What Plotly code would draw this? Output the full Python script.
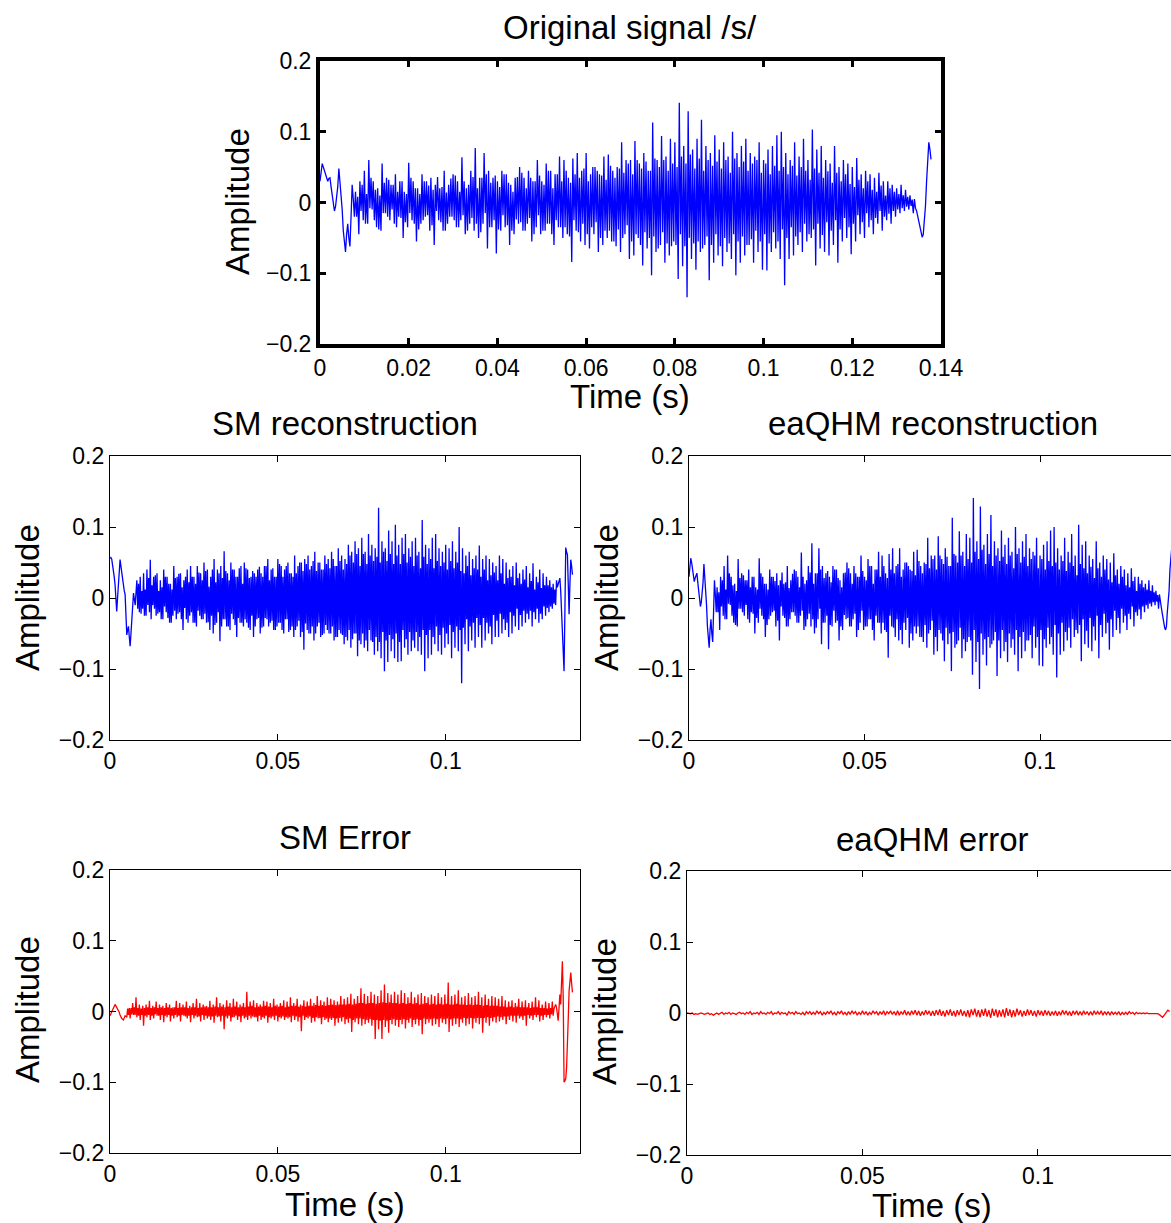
import numpy as np
import plotly.graph_objects as go

# amplitudes are stored in 1/1000, every 0.25 ms
# (0.5 ms for the eaQHM error, which is almost flat)
fs_fine = 4000
fs_coarse = 2000

orig_sig = [
    30, 42, 55, 50, 44, 38, 32, 30, 34, 35, 22, 8, -4, -12, -6, 5, 22, 48, 30, 15,
    -10, -40, -58, -70, -45, -30, -50, -62, -20, 25, 5, -20,
    15, -20, 8, -45, 30, -12, 25, -25,
    45, -30, 12, -30, 60, -8, 35, -10, 30, -25, 18, -35, 20, -38, 10, -40, 55, -15, 28, -15,
    35, -20, 32, -25, 25, -10, 25, -30, 40, -35, 15, -20, 30, -22, 30, -50, 15, -28, 12, -35,
    56, -15, 35, -25, 30, -30, 20, -55, 20, -38, 12, -30, 40, -25, 30, -20, 30, -18, 24, -40,
    35, -32, 18, -60, 25, -12, 36, -25, 20, -28, 22, -40, 45, -40, 14, -30, 25, -20, 34, -20,
    40, -25, 38, -35, 30, -35, 15, -25, 64, -18, 30, -45, 20, -40, 25, -30, 45, -22, 36, -40,
    77, -30, 20, -50, 35, -42, 35, -30, 70, -15, 40, -65, 45, -35, 28, -35, 35, -25, 38, -72,
    30, -38, 22, -40, 45, -18, 40, -35, 40, -32, 28, -60, 25, -40, 15, -45, 35, -24, 36, -30,
    50, -28, 42, -40, 35, -40, 20, -30, 45, -22, 35, -55, 30, -45, 30, -35, 60, -18, 38, -45,
    30, -40, 25, -40, 55, -30, 45, -30, 45, -45, 20, -60, 40, -25, 40, -35, 65, -35, 30, -50,
    60, -35, 45, -45, 35, -48, 28, -84, 62, -25, 40, -40, 70, -42, 35, -55, 45, -30, 48, -60,
    70, -45, 30, -65, 40, -35, 50, -45, 50, -28, 45, -70, 40, -50, 38, -60, 65, -40, 32, -50,
    68, -40, 52, -55, 45, -55, 35, -62, 50, -38, 48, -70, 85, -50, 42, -45, 60, -32, 55, -80,
    60, -55, 40, -75, 87, -45, 60, -50, 55, -60, 48, -89, 70, -42, 58, -65, 45, -50, 45, -103,
    113, -48, 62, -70, 60, -65, 50, -60, 94, -42, 60, -85, 65, -58, 45, -75, 90, -62, 55, -55,
    85, -60, 50, -108, 141, -45, 65, -90, 80, -62, 55, -134, 129, -50, 68, -80, 75, -58, 48, -95,
    90, -55, 62, -70, 117, -65, 45, -60, 80, -48, 60, -110, 70, -60, 52, -85, 95, -45, 58, -75,
    75, -62, 48, -90, 85, -50, 60, -70, 65, -58, 42, -80, 100, -45, 62, -103, 70, -55, 50, -85,
    80, -48, 58, -75, 90, -60, 45, -60, 70, -52, 55, -85, 65, -40, 60, -70, 85, -55, 42, -95,
    60, -45, 55, -96, 75, -58, 40, -70, 80, -42, 52, -65, 95, -55, 45, -80, 100, -38, 50, -117,
    70, -50, 40, -80, 60, -35, 52, -75, 85, -48, 38, -60, 65, -42, 50, -70, 90, -30, 45, -55,
    60, -45, 32, -50, 103, -38, 48, -89, 75, -30, 42, -65, 80, -46, 35, -70, 60, -28, 44, -75,
    55, -40, 28, -60, 80, -25, 42, -85, 50, -38, 30, -55, 60, -22, 40, -50, 55, -35, 26, -73,
    50, -30, 22, -55, 63, -18, 32, -45, 40, -28, 20, -50, 45, -15, 30, -35, 40, -25, 18, -45,
    35, -22, 15, -30, 42, -12, 24, -40, 30, -20, 10, -25, 30, -16, 20, -30, 25, -12, 15, -20,
    20, -10, 12, -15, 25, -8, 10, -12, 18, -6, 8, -10, 10, -5, 4, -15, 5, -8, -12, -20,
    -28, -35, -42, -49, -45, -30, -5, 30, 60, 85, 75, 61,
]

sm_rec = [
    56, 57, 55, 48, 40, 30, 19, 0, -19, 0, 20, 40, 54, 45, 35, 28, 23, 10, 5, -25,
    -52, -45, -40, -55, -68, -50, -30, -10, 7, -2, -10, 8,
    25, -15, 20, -20, 30, -22, 10, -15,
    35, -25, 12, -25, 40, -10, 28, -20, 54, -30, 18, -10, 30, -15, 32, -25, 35, -22, 10, -20,
    25, -30, 15, -30, 40, -12, 30, -20, 30, -28, 20, -35, 20, -35, 12, -25, 45, -18, 28, -30,
    30, -22, 34, -20, 35, -30, 15, -45, 25, -14, 30, -30, 40, -35, 22, -25, 45, -20, 30, -35,
    30, -35, 20, -40, 45, -18, 36, -25, 35, -30, 25, -30, 50, -22, 38, -35, 40, -34, 16, -45,
    30, -25, 40, -50, 55, -38, 22, -35, 40, -20, 35, -61, 45, -40, 28, -30, 66, -30, 38, -40,
    35, -40, 25, -45, 50, -22, 40, -30, 40, -38, 30, -55, 30, -28, 42, -35, 45, -35, 20, -40,
    50, -30, 42, -35, 40, -42, 28, -45, 30, -25, 38, -55, 35, -40, 30, -30, 40, -28, 44, -50,
    35, -42, 30, -40, 45, -28, 45, -30, 55, -40, 25, -35, 40, -32, 42, -45, 30, -45, 30, -40,
    55, -35, 48, -35, 45, -45, 30, -50, 40, -30, 45, -30, 50, -48, 35, -45, 35, -40, 30, -55,
    60, -45, 35, -40, 45, -32, 50, -55, 50, -48, 38, -73, 55, -36, 48, -45, 60, -50, 40, -50,
    45, -40, 52, -60, 65, -50, 38, -40, 50, -35, 50, -55, 40, -52, 40, -50, 60, -38, 48, -45,
    55, -50, 42, -50, 65, -40, 55, -60, 45, -55, 45, -55, 70, -45, 52, -50, 60, -52, 40, -65,
    55, -55, 48, -60, 75, -45, 60, -70, 65, -58, 50, -50, 80, -50, 62, -82, 70, -60, 45, -65,
    85, -50, 62, -70, 65, -60, 48, -75, 90, -45, 60, -60, 75, -62, 52, -80, 70, -55, 58, -75,
    127, -62, 50, -85, 80, -48, 65, -103, 70, -60, 52, -90, 95, -52, 62, -75, 80, -58, 48, -85,
    103, -50, 60, -90, 75, -62, 48, -89, 85, -45, 62, -70, 90, -58, 50, -80, 70, -48, 58, -75,
    80, -60, 45, -70, 85, -48, 60, -75, 65, -55, 42, -80, 110, -45, 58, -103, 75, -52, 48, -85,
    70, -45, 55, -80, 85, -55, 42, -65, 90, -40, 52, -75, 70, -52, 45, -80, 65, -42, 50, -70,
    75, -50, 40, -65, 70, -38, 52, -85, 80, -48, 42, -70, 65, -40, 50, -75, 100, -45, 38, -120,
    70, -42, 35, -65, 60, -30, 45, -75, 65, -40, 32, -60, 55, -35, 42, -70, 60, -28, 40, -55,
    74, -38, 30, -70, 55, -28, 40, -60, 60, -35, 25, -50, 55, -40, 32, -65, 50, -24, 36, -55,
    45, -32, 25, -55, 60, -22, 35, -50, 55, -30, 20, -45, 50, -35, 28, -55, 40, -20, 30, -50,
    45, -25, 18, -40, 50, -15, 28, -45, 35, -24, 20, -40, 40, -18, 26, -35, 45, -22, 15, -30,
    35, -18, 24, -40, 49, -20, 12, -30, 30, -15, 22, -35, 40, -22, 14, -30, 35, -12, 18, -25,
    30, -14, 18, -20, 25, -12, 15, -15, 20, -8, 12, -10, 25, 15, 20, 24, 28, 10, -20, -52,
    -80, -103, -20, 71, 65, 61, 20, -23, 20, 54, 45, 33,
]

eaqhm_rec = [
    30, 44, 56, 50, 42, 34, 23, 28, 34, 35, 22, 8, -4, -12, -6, 5, 22, 48, 30, 15,
    -10, -40, -58, -70, -45, -30, -50, -62, -20, 25, 5, -20,
    15, -20, 8, -45, 30, -12, 25, -25,
    45, -30, 12, -30, 60, -8, 35, -10, 30, -25, 18, -35, 20, -38, 10, -40, 55, -15, 28, -15,
    35, -20, 32, -25, 25, -10, 25, -30, 40, -35, 15, -20, 30, -22, 30, -50, 15, -28, 12, -35,
    56, -15, 35, -25, 30, -30, 20, -55, 20, -38, 12, -30, 40, -25, 30, -20, 30, -18, 24, -40,
    35, -32, 18, -60, 25, -12, 36, -25, 20, -28, 22, -40, 45, -40, 14, -30, 25, -20, 34, -20,
    40, -25, 38, -35, 30, -35, 15, -25, 64, -18, 30, -45, 20, -40, 25, -30, 45, -22, 36, -40,
    77, -30, 20, -50, 35, -42, 35, -30, 70, -15, 40, -65, 45, -35, 28, -35, 35, -25, 38, -72,
    30, -38, 22, -40, 45, -18, 40, -35, 40, -32, 28, -60, 25, -40, 15, -45, 35, -24, 36, -30,
    50, -28, 42, -40, 35, -40, 20, -30, 45, -22, 35, -55, 30, -45, 30, -35, 60, -18, 38, -45,
    30, -40, 25, -40, 55, -30, 45, -30, 45, -45, 20, -60, 40, -25, 40, -35, 65, -35, 30, -50,
    60, -35, 45, -45, 35, -48, 28, -84, 62, -25, 40, -40, 70, -42, 35, -55, 45, -30, 48, -60,
    70, -45, 30, -65, 40, -35, 50, -45, 50, -28, 45, -70, 40, -50, 38, -60, 65, -40, 32, -50,
    68, -40, 52, -55, 45, -55, 35, -62, 50, -38, 48, -70, 85, -50, 42, -45, 60, -32, 55, -80,
    60, -55, 40, -75, 87, -45, 60, -50, 55, -60, 48, -89, 70, -42, 58, -65, 45, -50, 45, -103,
    113, -48, 62, -70, 60, -65, 50, -60, 94, -42, 60, -85, 65, -58, 45, -75, 90, -62, 55, -55,
    85, -60, 50, -108, 141, -45, 65, -90, 80, -62, 55, -128, 129, -50, 68, -80, 75, -58, 48, -95,
    90, -55, 62, -70, 117, -65, 45, -60, 80, -48, 60, -110, 70, -60, 52, -85, 95, -45, 58, -75,
    75, -62, 48, -90, 85, -50, 60, -70, 65, -58, 42, -80, 100, -45, 62, -103, 70, -55, 50, -85,
    80, -48, 58, -75, 90, -60, 45, -60, 70, -52, 55, -85, 65, -40, 60, -70, 85, -55, 42, -95,
    60, -45, 55, -96, 75, -58, 40, -70, 80, -42, 52, -65, 95, -55, 45, -80, 100, -38, 50, -112,
    70, -50, 40, -80, 60, -35, 52, -75, 85, -48, 38, -60, 65, -42, 50, -70, 90, -30, 45, -55,
    60, -45, 32, -50, 103, -38, 48, -89, 75, -30, 42, -65, 80, -46, 35, -70, 60, -28, 44, -75,
    55, -40, 28, -60, 80, -25, 42, -85, 50, -38, 30, -55, 60, -22, 40, -50, 55, -35, 26, -73,
    50, -30, 22, -55, 63, -18, 32, -45, 40, -28, 20, -50, 45, -15, 30, -35, 40, -25, 18, -45,
    35, -22, 15, -30, 42, -12, 24, -40, 30, -20, 10, -25, 30, -16, 20, -30, 25, -12, 15, -20,
    20, -10, 12, -15, 25, -8, 10, -12, 18, -6, 8, -10, 10, -5, 4, -15, 5, -8, -12, -20,
    -28, -35, -42, -45, -40, -20, -5, 10, 40, 60, 70, 80,
]

sm_err = [
    -6, -3, 0, 3, 5, 8, 10, 8, 6, 4, 3, -1, -5, -8, -10, -11, -12, -9, -6, -7,
    -8, 4, -5, 5, -10, 5, -4, 12, -5, 6, -5, 20, -8, 5, -6, 10, -12, 4, -5, 8,
    -20, 5, -6, 10, -8, 6, -5, 15, -12, 5, -6, 8, -10, 6, -4, 14, -6, 5, -6, 10,
    -12, 6, -5, 8, -15, 5, -6, 12, -8, 6, -5, 10, -14, 5, -6, 6, -10, 6, -5, 15,
    -8, 5, -6, 12, -14, 6, -5, 10, -6, 6, -7, 14, -10, 5, -6, 8, -15, 6, -5, 12,
    -10, 6, -6, 18, -8, 5, -7, 12, -14, 6, -5, 10, -12, 7, -6, 8, -10, 6, -7, 15,
    -12, 6, -7, 10, -16, 7, -6, 20, -8, 6, -7, 12, -14, 7, -6, 10, -25, 6, -7, 16,
    -10, 7, -6, 12, -14, 6, -8, 18, -8, 7, -6, 14, -12, 6, -7, 10, -15, 7, -6, 12,
    -10, 6, -8, 28, -12, 7, -6, 14, -10, 8, -7, 16, -8, 6, -8, 12, -14, 7, -6, 10,
    -12, 7, -8, 15, -10, 8, -6, 14, -16, 7, -8, 12, -10, 6, -7, 18, -12, 8, -6, 10,
    -14, 7, -8, 12, -10, 8, -7, 16, -12, 6, -8, 14, -10, 7, -8, 20, -15, 8, -6, 12,
    -12, 8, -7, 18, -14, 7, -8, 10, -28, 8, -6, 16, -12, 7, -8, 14, -10, 8, -7, 18,
    -16, 8, -9, 12, -14, 9, -8, 22, -10, 8, -9, 16, -18, 9, -8, 14, -12, 8, -10, 20,
    -15, 9, -10, 18, -12, 10, -9, 16, -20, 9, -10, 14, -16, 10, -9, 22, -14, 10, -8, 18,
    -18, 10, -11, 20, -16, 11, -10, 25, -29, 10, -12, 18, -15, 11, -10, 22, -18, 12, -10, 33,
    -20, 12, -11, 25, -18, 11, -12, 22, -16, 12, -11, 28, -20, 12, -12, 24, -39, 11, -12, 22,
    -25, 12, -13, 30, -39, 13, -12, 38, -22, 12, -13, 26, -30, 13, -12, 24, -18, 12, -11, 28,
    -20, 12, -12, 24, -22, 11, -12, 30, -18, 12, -11, 26, -24, 11, -12, 20, -16, 12, -10, 28,
    -22, 11, -12, 20, -18, 12, -11, 24, -20, 10, -12, 26, -32, 11, -10, 22, -18, 12, -11, 20,
    -16, 10, -11, 24, -20, 11, -10, 22, -18, 10, -11, 26, -22, 11, -10, 20, -16, 10, -11, 24,
    -18, 11, -10, 41, -29, 10, -11, 22, -20, 10, -10, 24, -18, 11, -10, 30, -22, 10, -11, 20,
    -16, 10, -9, 22, -20, 9, -10, 26, -18, 10, -9, 20, -24, 9, -10, 22, -16, 10, -9, 28,
    -18, 9, -9, 20, -30, 8, -9, 24, -16, 9, -8, 18, -20, 8, -9, 22, -14, 8, -8, 20,
    -16, 8, -7, 18, -14, 7, -8, 22, -12, 7, -7, 16, -18, 6, -7, 14, -12, 7, -6, 16,
    -14, 6, -6, 12, -16, 7, -6, 18, -10, 6, -7, 14, -12, 6, -6, 16, -20, 6, -5, 12,
    -10, 5, -6, 14, -12, 6, -5, 20, -8, 6, -5, 16, -14, 5, -6, 10, -12, 5, -5, 14,
    -8, 4, -5, 12, -10, 5, -4, 14, -6, 4, 8, 10, 6, -5, -13, 5, 24, 10, 45, 71,
    20, -100, -98, -95, -80, -55, -10, 29, 45, 55, 40, 27,
]

eaqhm_err = [
    0, -1, -1, 0, -2, -1, -2, -1, 0, -1,
    -2, -1, 0, -2, -1, -3, -1, 0, -2, -1,
    1, -2, 0, -1, 1, -2, 0, -1, -2, 0,
    1, -1, 0, -2, 1, -1, 2, -2, 0, -1,
    1, -2, 2, -1, 0, -2, 1, -1, 2, -2,
    0, -1, 2, -2, 1, -1, 0, -3, 2, -1,
    1, -2, 2, -1, 0, -2, 1, -3, 2, -1,
    2, -2, 1, -2, 3, -1, 2, -3, 1, -2,
    2, -1, 3, -2, 1, -3, 2, -1, 3, -2,
    1, -3, 2, -2, 3, -1, 2, -3, 1, -2,
    3, -2, 2, -3, 1, -2, 3, -1, 2, -3,
    2, -2, 3, -3, 2, -1, 3, -2, 2, -3,
    3, -3, 2, -2, 4, -3, 2, -3, 3, -2,
    4, -3, 3, -4, 2, -3, 4, -2, 3, -4,
    3, -4, 4, -3, 5, -4, 3, -5, 4, -3,
    5, -4, 3, -5, 4, -3, 5, -4, 3, -5,
    4, -6, 5, -3, 6, -5, 4, -6, 5, -4,
    6, -5, 4, -7, 6, -4, 5, -6, 4, -5,
    5, -6, 7, -4, 5, -6, 4, -5, 6, -3,
    4, -5, 3, -4, 5, -3, 4, -4, 3, -5,
    4, -3, 3, -4, 4, -3, 3, -4, 2, -3,
    3, -4, 2, -3, 4, -2, 3, -3, 2, -4,
    3, -2, 3, -3, 2, -3, 3, -2, 2, -3,
    2, -3, 3, -2, 2, -2, 3, -3, 2, -2,
    2, -3, 2, -2, 1, -2, 2, -3, 1, -2,
    1, -2, 2, -1, 1, -2, 1, -1, 0, -1,
    0, -1, 0, -1, -1, 0, -1, 0, -1, -2,
    -4, -6, -3, 1, 4, 2,
]

y_ticks = [-0.2, -0.1, 0, 0.1, 0.2]
y_ticktext = ["\u22120.2", "\u22120.1", "0", "0.1", "0.2"]
x_ticks_top = [0, 0.02, 0.04, 0.06, 0.08, 0.1, 0.12, 0.14]
x_ticktext_top = ["0", "0.02", "0.04", "0.06", "0.08", "0.1", "0.12", "0.14"]
x_ticks = [0, 0.05, 0.1]
x_ticktext = ["0", "0.05", "0.1"]

W, H = 1171, 1223
FONT = "Liberation Sans, Arial, Helvetica, sans-serif"


def px(x):
    return x / W


def py(y):
    return 1 - y / H


fig = go.Figure()

panels = [
    # (signal, rate, colour, x-pixels, y-pixels, x max, ticks, thick border, right line)
    (orig_sig, fs_fine, "#0000ff", (320, 941), (61, 344), 0.14, (x_ticks_top, x_ticktext_top), True, True),
    (sm_rec, fs_fine, "#0000ff", (110, 580), (456, 740), 0.14, (x_ticks, x_ticktext), False, True),
    (eaqhm_rec, fs_fine, "#0000ff", (689, 1171), (456, 740), 0.1373, (x_ticks, x_ticktext), False, False),
    (sm_err, fs_fine, "#ff0000", (110, 580), (870, 1153), 0.14, (x_ticks, x_ticktext), False, True),
    (eaqhm_err, fs_coarse, "#ff0000", (687, 1171), (871, 1155), 0.1379, (x_ticks, x_ticktext), False, False),
]

for k, (sig, rate, col, xp, yp, xmax, xt, thick, right) in enumerate(panels, start=1):
    sfx = "" if k == 1 else str(k)
    t = np.arange(len(sig)) / rate
    fig.add_trace(go.Scatter(x=t, y=np.array(sig) / 1000.0, mode="lines",
                             line=dict(color=col, width=1.3),
                             xaxis="x" + sfx, yaxis="y" + sfx, showlegend=False))
    lw = 4 if thick else 1.3
    tw = 3 if thick else 1
    common = dict(showline=True, linecolor="black", linewidth=lw,
                  ticks="inside", ticklen=6, tickwidth=tw, tickcolor="black",
                  showgrid=False, zeroline=False, automargin=False,
                  tickfont=dict(family=FONT, size=23, color="black"))
    fig.layout["xaxis" + sfx] = dict(common, domain=[px(xp[0]), min(px(xp[1]), 1)],
                                     range=[0, xmax], tickvals=xt[0], ticktext=xt[1],
                                     mirror="allticks", anchor="y" + sfx)
    fig.layout["yaxis" + sfx] = dict(common, domain=[py(yp[1]), py(yp[0])],
                                     range=[-0.2, 0.2], tickvals=y_ticks, ticktext=y_ticktext,
                                     mirror="allticks" if right else False, anchor="x" + sfx)

texts = [
    ("Original signal /s/", 630, 28, 0),
    ("Time (s)", 630, 397, 0),
    ("Amplitude", 237, 202, -90),
    ("SM reconstruction", 345, 423, 0),
    ("eaQHM reconstruction", 933, 423, 0),
    ("Amplitude", 27, 598, -90),
    ("Amplitude", 606, 598, -90),
    ("SM Error", 345, 837, 0),
    ("eaQHM error", 932, 839, 0),
    ("Amplitude", 27, 1010, -90),
    ("Amplitude", 604, 1012, -90),
    ("Time (s)", 345, 1204, 0),
    ("Time (s)", 932, 1205, 0),
]
for txt, x, y, ang in texts:
    fig.add_annotation(text=txt, x=px(x), y=py(y), xref="paper", yref="paper",
                       xanchor="center", yanchor="middle", showarrow=False,
                       textangle=ang, font=dict(family=FONT, size=33, color="black"))

fig.update_layout(template="none", width=W, height=H,
                  margin=dict(l=0, r=0, t=0, b=0, autoexpand=False),
                  paper_bgcolor="white", plot_bgcolor="white", showlegend=False)

# drop the page's default body margin so the figure sits in the corner of the window
fig.write_html("out.html", config={"displayModeBar": False},
               post_script="document.body.style.margin='0';document.body.style.overflow='hidden';")
